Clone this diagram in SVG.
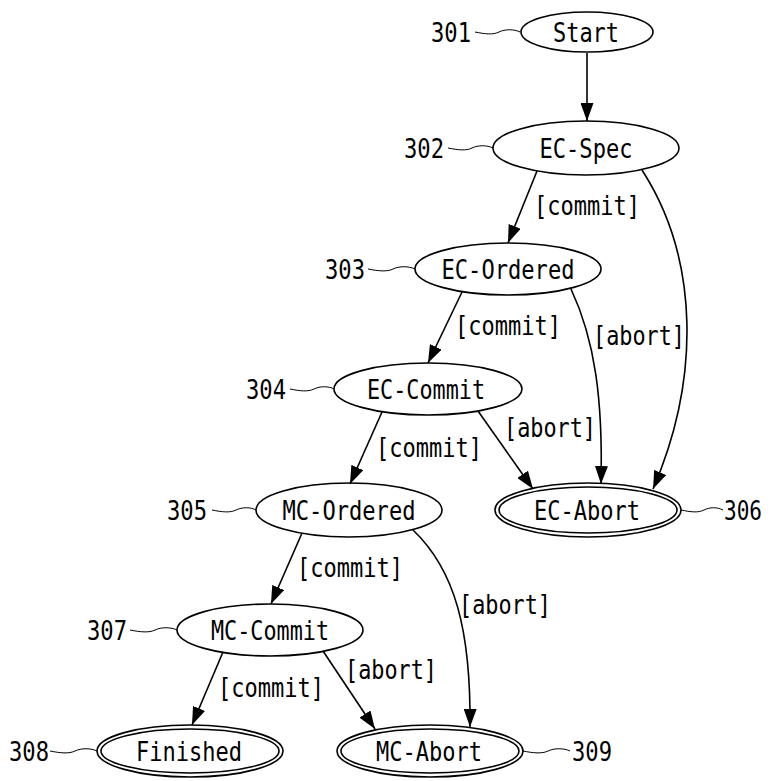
<svg xmlns="http://www.w3.org/2000/svg" width="772" height="781" viewBox="0 0 772 781">
  <style>
    .node { fill: none; stroke: #000; stroke-width: 1.6; }
    .edge { fill: none; stroke: #000; stroke-width: 1.6; }
    .lead { fill: none; stroke: #000; stroke-width: 1; }
    text { font-family: "DejaVu Sans Mono", "Liberation Mono", monospace; font-size: 26px; fill: #000; text-anchor: middle; }
  </style>
  <defs>
    <marker id="arrow" markerUnits="userSpaceOnUse" markerWidth="18" markerHeight="13" refX="18" refY="6.5" orient="auto">
      <path d="M0,0 L18,6.5 L0,13 z" fill="#000"/>
    </marker>
  </defs>
  <rect width="772" height="781" fill="#fff"/>

  <!-- transitions -->
  <g id="edges">
    <path class="edge" marker-end="url(#arrow)" d="M587,53 L587,121"/>
    <path class="edge" marker-end="url(#arrow)" d="M537,171 L508,243"/>
    <path class="edge" marker-end="url(#arrow)" d="M642,170 C700,260 700,380 653,489"/>
    <path class="edge" marker-end="url(#arrow)" d="M462,292 L428,363"/>
    <path class="edge" marker-end="url(#arrow)" d="M571,289 C595,340 603,400 601,484"/>
    <path class="edge" marker-end="url(#arrow)" d="M382,412 L350,484"/>
    <path class="edge" marker-end="url(#arrow)" d="M478,411 L533,489"/>
    <path class="edge" marker-end="url(#arrow)" d="M302,533 L271,604"/>
    <path class="edge" marker-end="url(#arrow)" d="M413,530 C455,570 471,630 470,727"/>
    <path class="edge" marker-end="url(#arrow)" d="M223,652 L192,725"/>
    <path class="edge" marker-end="url(#arrow)" d="M323,651 L375,729"/>

    <text x="587" y="215" textLength="106" lengthAdjust="spacingAndGlyphs">[commit]</text>
    <text x="508" y="335" textLength="106" lengthAdjust="spacingAndGlyphs">[commit]</text>
    <text x="639" y="345" textLength="92" lengthAdjust="spacingAndGlyphs">[abort]</text>
    <text x="550" y="437" textLength="92" lengthAdjust="spacingAndGlyphs">[abort]</text>
    <text x="429" y="457" textLength="106" lengthAdjust="spacingAndGlyphs">[commit]</text>
    <text x="350" y="577" textLength="106" lengthAdjust="spacingAndGlyphs">[commit]</text>
    <text x="505" y="614" textLength="92" lengthAdjust="spacingAndGlyphs">[abort]</text>
    <text x="271" y="697" textLength="106" lengthAdjust="spacingAndGlyphs">[commit]</text>
    <text x="391" y="679" textLength="92" lengthAdjust="spacingAndGlyphs">[abort]</text>
  </g>

  <!-- states -->
  <g id="n301">
    <ellipse class="node" cx="587" cy="32" rx="66" ry="20"/>
    <text x="586" y="42" textLength="66" lengthAdjust="spacingAndGlyphs">Start</text>
    <path class="lead" d="M475,32 c10,2 18,3 24,0 s15,-3 21,0"/>
    <text x="451" y="42" textLength="40" lengthAdjust="spacingAndGlyphs">301</text>
  </g>
  <g id="n302">
    <ellipse class="node" cx="586" cy="148" rx="93" ry="27"/>
    <text x="586" y="158" textLength="93" lengthAdjust="spacingAndGlyphs">EC-Spec</text>
    <path class="lead" d="M448,148 c10,2 18,3 24,0 s15,-3 21,0"/>
    <text x="424" y="158" textLength="40" lengthAdjust="spacingAndGlyphs">302</text>
  </g>
  <g id="n303">
    <ellipse class="node" cx="508" cy="269" rx="93" ry="26"/>
    <text x="508" y="279" textLength="133" lengthAdjust="spacingAndGlyphs">EC-Ordered</text>
    <path class="lead" d="M368,269 c10,2 19,3 25,0 s16,-3 22,0"/>
    <text x="345" y="279" textLength="40" lengthAdjust="spacingAndGlyphs">303</text>
  </g>
  <g id="n304">
    <ellipse class="node" cx="428" cy="389" rx="94" ry="26"/>
    <text x="426" y="399" textLength="118" lengthAdjust="spacingAndGlyphs">EC-Commit</text>
    <path class="lead" d="M290,389 c10,2 18,3 24,0 s15,-3 20,0"/>
    <text x="266" y="399" textLength="40" lengthAdjust="spacingAndGlyphs">304</text>
  </g>
  <g id="n305">
    <ellipse class="node" cx="349" cy="510" rx="93" ry="27"/>
    <text x="349" y="520" textLength="133" lengthAdjust="spacingAndGlyphs">MC-Ordered</text>
    <path class="lead" d="M212,510 c10,2 18,3 24,0 s15,-3 20,0"/>
    <text x="187" y="520" textLength="40" lengthAdjust="spacingAndGlyphs">305</text>
  </g>
  <g id="n306">
    <ellipse class="node" cx="588" cy="510" rx="93" ry="27"/>
    <ellipse class="node" cx="588" cy="510" rx="89" ry="23"/>
    <text x="587" y="520" textLength="106" lengthAdjust="spacingAndGlyphs">EC-Abort</text>
    <path class="lead" d="M681,510 c10,2 17,3 23,0 s13,-3 19,0"/>
    <text x="743" y="520" textLength="38" lengthAdjust="spacingAndGlyphs">306</text>
  </g>
  <g id="n307">
    <ellipse class="node" cx="270" cy="630" rx="93" ry="26"/>
    <text x="270" y="640" textLength="118" lengthAdjust="spacingAndGlyphs">MC-Commit</text>
    <path class="lead" d="M130,630 c10,2 19,3 25,0 s16,-3 22,0"/>
    <text x="107" y="640" textLength="40" lengthAdjust="spacingAndGlyphs">307</text>
  </g>
  <g id="n308">
    <ellipse class="node" cx="190" cy="751" rx="93" ry="26"/>
    <ellipse class="node" cx="190" cy="751" rx="89" ry="22"/>
    <text x="189" y="761" textLength="106" lengthAdjust="spacingAndGlyphs">Finished</text>
    <path class="lead" d="M50,751 c10,2 19,3 25,0 s16,-3 22,0"/>
    <text x="29" y="761" textLength="40" lengthAdjust="spacingAndGlyphs">308</text>
  </g>
  <g id="n309">
    <ellipse class="node" cx="430" cy="751" rx="93" ry="26"/>
    <ellipse class="node" cx="430" cy="751" rx="89" ry="22"/>
    <text x="429" y="761" textLength="106" lengthAdjust="spacingAndGlyphs">MC-Abort</text>
    <path class="lead" d="M523,751 c10,2 19,3 25,0 s16,-3 22,0"/>
    <text x="592" y="761" textLength="40" lengthAdjust="spacingAndGlyphs">309</text>
  </g>
</svg>
